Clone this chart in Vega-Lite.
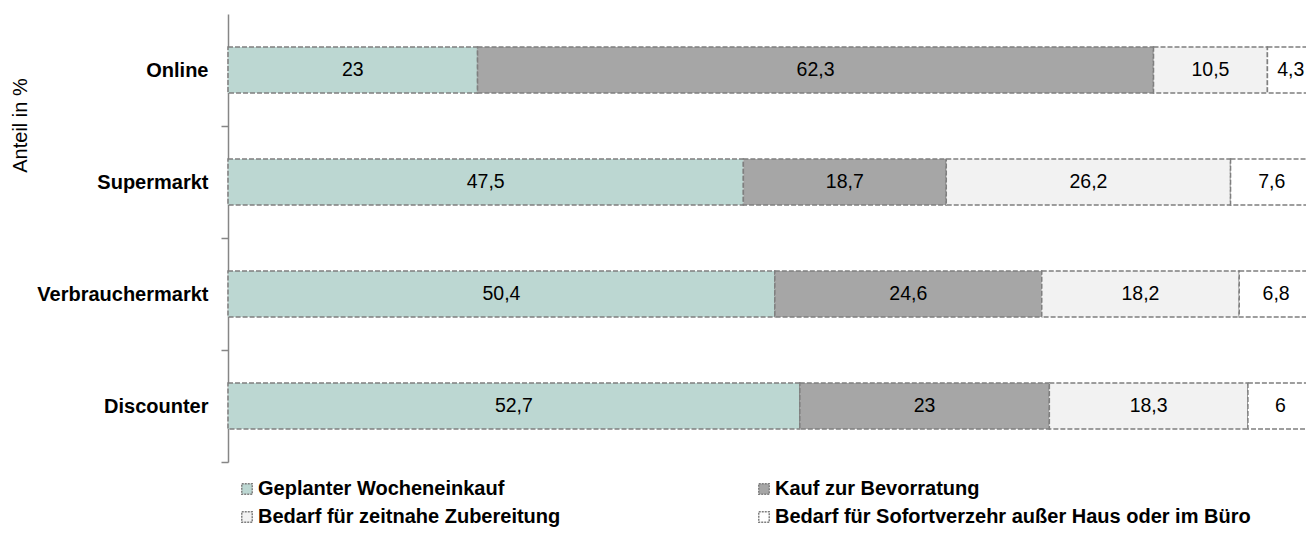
{
  "$schema": "https://vega.github.io/schema/vega-lite/v6.json",
  "autosize": {"type": "none"},
  "padding": {"left": 228, "top": 14, "right": 0, "bottom": 74},
  "width": 1085,
  "height": 448,
  "background": "white",
  "config": {
    "view": {"stroke": null},
    "locale": {"number": {"decimal": ",", "thousands": ".", "grouping": [3], "currency": ["", " €"]}},
    "font": "Liberation Sans"
  },
  "data": {
    "values": [
      {"kanal": "Online", "art": "Geplanter Wocheneinkauf", "idx": 1, "wert": 23},
      {"kanal": "Online", "art": "Kauf zur Bevorratung", "idx": 2, "wert": 62.3},
      {"kanal": "Online", "art": "Bedarf für zeitnahe Zubereitung", "idx": 3, "wert": 10.5},
      {"kanal": "Online", "art": "Bedarf für Sofortverzehr außer Haus oder im Büro", "idx": 4, "wert": 4.3},
      {"kanal": "Supermarkt", "art": "Geplanter Wocheneinkauf", "idx": 1, "wert": 47.5},
      {"kanal": "Supermarkt", "art": "Kauf zur Bevorratung", "idx": 2, "wert": 18.7},
      {"kanal": "Supermarkt", "art": "Bedarf für zeitnahe Zubereitung", "idx": 3, "wert": 26.2},
      {"kanal": "Supermarkt", "art": "Bedarf für Sofortverzehr außer Haus oder im Büro", "idx": 4, "wert": 7.6},
      {"kanal": "Verbrauchermarkt", "art": "Geplanter Wocheneinkauf", "idx": 1, "wert": 50.4},
      {"kanal": "Verbrauchermarkt", "art": "Kauf zur Bevorratung", "idx": 2, "wert": 24.6},
      {"kanal": "Verbrauchermarkt", "art": "Bedarf für zeitnahe Zubereitung", "idx": 3, "wert": 18.2},
      {"kanal": "Verbrauchermarkt", "art": "Bedarf für Sofortverzehr außer Haus oder im Büro", "idx": 4, "wert": 6.8},
      {"kanal": "Discounter", "art": "Geplanter Wocheneinkauf", "idx": 1, "wert": 52.7},
      {"kanal": "Discounter", "art": "Kauf zur Bevorratung", "idx": 2, "wert": 23},
      {"kanal": "Discounter", "art": "Bedarf für zeitnahe Zubereitung", "idx": 3, "wert": 18.3},
      {"kanal": "Discounter", "art": "Bedarf für Sofortverzehr außer Haus oder im Büro", "idx": 4, "wert": 6}
    ]
  },
  "encoding": {
    "y": {
      "field": "kanal",
      "type": "nominal",
      "sort": ["Online", "Supermarkt", "Verbrauchermarkt", "Discounter"],
      "scale": {"paddingInner": 0.59, "paddingOuter": 0.295},
      "axis": {
        "title": "Anteil in %",
        "titleFont": "Liberation Sans",
        "titleFontSize": 20,
        "titleFontWeight": "normal",
        "titleColor": "#000000",
        "titleAngle": -90,
        "titleX": -208,
        "titleY": 111,
        "titleAlign": "center",
        "titleBaseline": "middle",
        "labelFont": "Liberation Sans",
        "labelFontSize": 20,
        "labelFontWeight": "bold",
        "labelColor": "#000000",
        "labelPadding": 13,
        "bandPosition": 0.5,
        "tickOffset": 56,
        "labelOffset": -56,
        "tickSize": 7,
        "tickColor": "#868686",
        "tickWidth": 1.5,
        "domainColor": "#868686",
        "domainWidth": 1.5
      }
    }
  },
  "layer": [
    {
      "mark": {"type": "bar", "stroke": "#7f7f7f", "strokeWidth": 1.5, "strokeDash": [5, 2]},
      "encoding": {
        "x": {"field": "wert", "type": "quantitative", "stack": "zero", "scale": {"domain": [0, 100], "nice": false}, "axis": null},
        "color": {
          "field": "art",
          "type": "nominal",
          "sort": ["Geplanter Wocheneinkauf", "Kauf zur Bevorratung", "Bedarf für zeitnahe Zubereitung", "Bedarf für Sofortverzehr außer Haus oder im Büro"],
          "scale": {
            "domain": ["Geplanter Wocheneinkauf", "Kauf zur Bevorratung", "Bedarf für zeitnahe Zubereitung", "Bedarf für Sofortverzehr außer Haus oder im Büro"],
            "range": ["#BCD7D2", "#A6A6A6", "#F2F2F2", "#FFFFFF"]
          },
          "legend": {
            "title": null,
            "orient": "none",
            "legendX": 9,
            "legendY": 465,
            "direction": "horizontal",
            "columns": 2,
            "columnPadding": 193,
            "rowPadding": 8,
            "padding": 0,
            "symbolType": "square",
            "symbolSize": 110,
            "symbolStrokeColor": "#7f7f7f",
            "symbolStrokeWidth": 1.5,
            "symbolDash": [2, 1],
            "symbolOpacity": 1,
            "labelFont": "Liberation Sans",
            "labelFontSize": 20,
            "labelFontWeight": "bold",
            "labelColor": "#000000",
            "labelOffset": 1,
            "labelLimit": 600
          }
        },
        "order": {"field": "idx", "type": "quantitative"}
      }
    },
    {
      "mark": {"type": "text", "font": "Liberation Sans", "fontSize": 19.5, "color": "#000000", "align": "center", "baseline": "middle"},
      "encoding": {
        "x": {"field": "wert", "type": "quantitative", "stack": "zero", "bandPosition": 0.5},
        "text": {"field": "wert", "type": "quantitative", "format": ".3~r"},
        "detail": {"field": "art", "type": "nominal"},
        "order": {"field": "idx", "type": "quantitative"}
      }
    }
  ]
}
